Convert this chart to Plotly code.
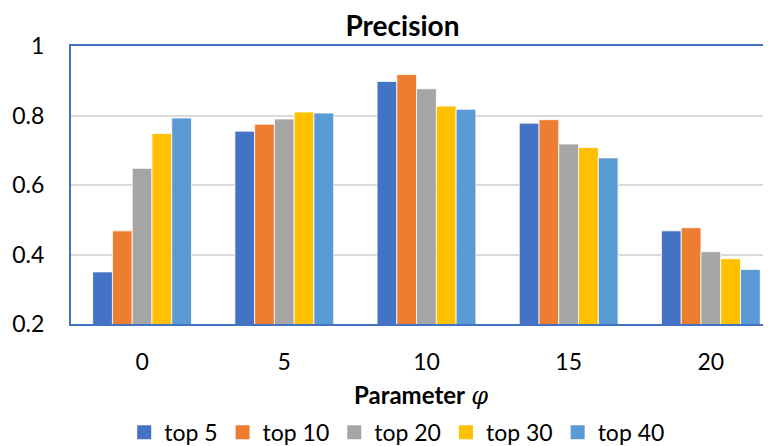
import plotly.graph_objects as go

categories = ["0", "5", "10", "15", "20"]
series_names = ["top 5", "top 10", "top 20", "top 30", "top 40"]
top5 = [0.35, 0.755, 0.898, 0.778, 0.468]
top10 = [0.468, 0.775, 0.918, 0.788, 0.477]
top20 = [0.648, 0.79, 0.877, 0.718, 0.408]
top30 = [0.748, 0.81, 0.827, 0.708, 0.388]
top40 = [0.793, 0.807, 0.818, 0.678, 0.357]
y_ticks = [0.2, 0.4, 0.6, 0.8, 1]
y_tick_labels = ["0.2", "0.4", "0.6", "0.8", "1"]

colors = ["#4472C4", "#ED7D31", "#A5A5A5", "#FFC000", "#5B9BD5"]
FONT = "Lato"

fig = go.Figure()
for name, vals, c in zip(series_names, [top5, top10, top20, top30, top40], colors):
    fig.add_trace(go.Bar(
        x=categories, y=vals, name=name, legendgroup=name, showlegend=False,
        marker=dict(color=c, line=dict(color="white", width=0.8)),
    ))
# legend entries with larger square swatches
for name, c in zip(series_names, colors):
    fig.add_trace(go.Scatter(
        x=[None], y=[None], mode="markers", name=name, legendgroup=name,
        marker=dict(symbol="square", size=14, color=c), showlegend=True,
    ))

fig.update_layout(
    width=763, height=438,
    margin=dict(l=63, r=0, t=38, b=122, autoexpand=False),
    paper_bgcolor="white", plot_bgcolor="white",
    barmode="group", bargap=0.305, bargroupgap=0,
    font=dict(family=FONT, size=23, color="black"),
    title=dict(text="<b>Precision</b>", x=0.517, xanchor="center",
               y=0.959, yanchor="middle", font=dict(family=FONT, size=28, color="black")),
    showlegend=True,
    legend=dict(orientation="h", x=0.466, xanchor="center", y=-0.39, yanchor="middle",
                font=dict(family=FONT, size=23), itemwidth=30, traceorder="normal",
                itemsizing="trace"),
)
fig.update_xaxes(
    type="category", range=[-0.5, 4.423], automargin=False,
    showline=True, linecolor="#4472C4", linewidth=2, mirror=True,
    ticks="outside", ticklen=16, tickcolor="rgba(0,0,0,0)",
    tickfont=dict(family=FONT, size=23),
    title=dict(text="<b>Parameter</b> <i><span style='font-family:DejaVu Serif'>φ</span></i>",
               font=dict(family=FONT, size=24), standoff=14),
    showgrid=False,
)
fig.update_yaxes(
    range=[0.2, 1.0], tickvals=y_ticks, ticktext=y_tick_labels, automargin=False,
    showline=True, linecolor="#4472C4", linewidth=2,
    ticks="outside", ticklen=20, tickcolor="rgba(0,0,0,0)",
    tickfont=dict(family=FONT, size=23),
    showgrid=True, gridcolor="#D9D9D9", gridwidth=1.5,
    zeroline=False,
)

fig.write_html("out.html")
